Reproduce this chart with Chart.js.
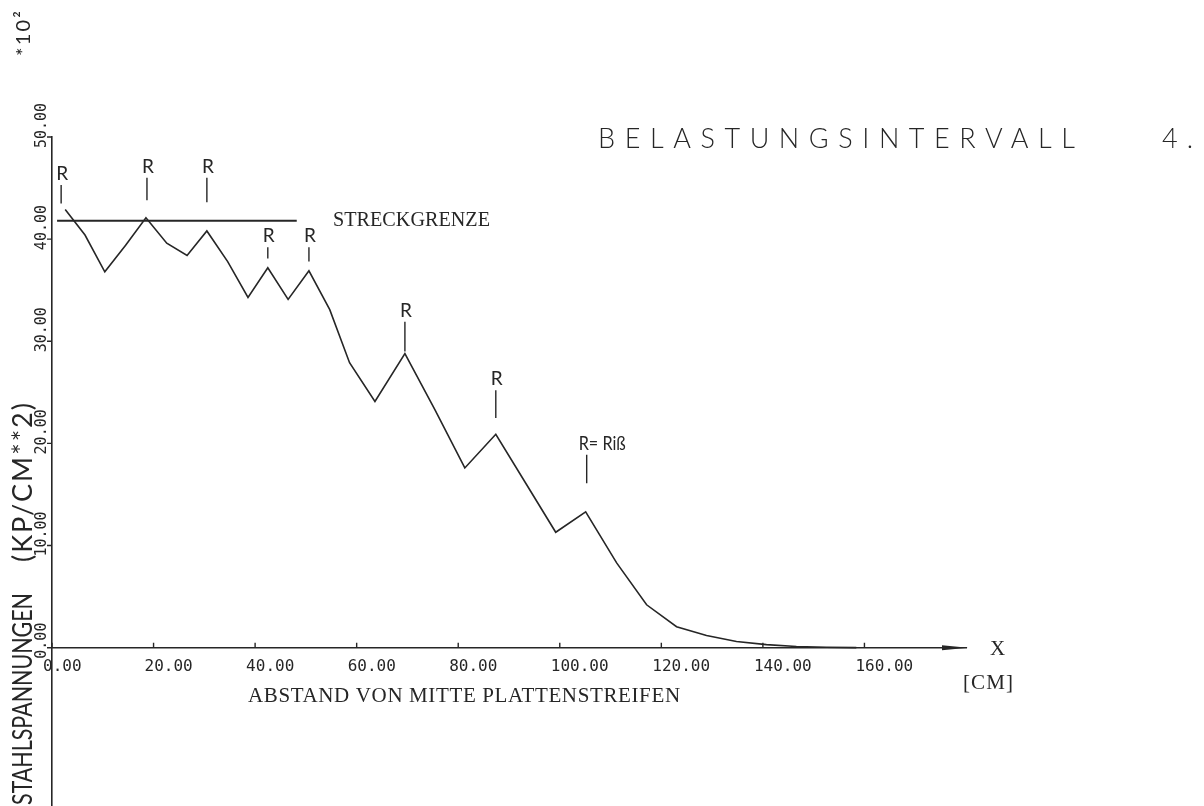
<!DOCTYPE html>
<html>
<head>
<meta charset="utf-8">
<title>Stahlspannungen - Belastungsintervall 4</title>
<script src="https://cdn.jsdelivr.net/npm/chart.js@4.4.1/dist/chart.umd.min.js"></script>
<style>
  html, body { margin: 0; padding: 0; background: #fff; }
  #wrap { position: relative; width: 1204px; height: 806px; }
</style>
</head>
<body>
<div id="wrap"><canvas id="chart"></canvas></div>
<script>
// Abstand von Mitte Plattenstreifen [cm]
const abstand = [2.6, 6.5, 10.4, 14.5, 18.5, 22.6, 26.6, 30.5, 34.6, 38.6, 42.5, 46.5, 50.6, 54.7,
                 58.6, 63.6, 69.5, 75.4, 81.3, 87.4, 93.3, 99.2, 105.1, 111.2, 117.1, 123.0,
                 128.9, 134.8, 140.7, 146.6, 152.5, 158.4];
// Stahlspannung [x10^2 kp/cm^2]
const spannung = [42.9, 40.4, 36.8, 39.4, 42.1, 39.6, 38.4, 40.8, 37.8, 34.3, 37.2, 34.1, 36.9, 33.1,
                  27.9, 24.1, 28.8, 23.3, 17.6, 20.9, 16.1, 11.3, 13.3, 8.3, 4.2, 2.05,
                  1.2, 0.6, 0.3, 0.12, 0.04, 0.01];

// Streckgrenze (von / bis, Hoehe)
const streckX = [1, 48.2];
const streckY = 41.8;

// Risse: Lage, Fuss und Kopf des Markierungsstrichs, Beschriftung
const rissX    = [1.8, 18.7, 30.5, 42.5, 50.6, 69.5, 87.4, 105.3];
const rissFuss = [43.5, 43.8, 43.6, 38.1, 37.8, 29.0, 22.5, 16.1];
const rissKopf = [45.3, 46.0, 46.0, 39.2, 39.2, 31.9, 25.2, 18.9];
const rissText = ['R', 'R', 'R', 'R', 'R', 'R', 'R', 'R= Riß'];

// Achsteilung
const xTicks = [0, 20, 40, 60, 80, 100, 120, 140, 160];
const yTicks = [0, 10, 20, 30, 40, 50];

const INK = '#262626';
const PLOTTER = 'Lato, "DejaVu Sans", sans-serif';
const TYPE = '"Liberation Serif", "DejaVu Serif", serif';
const MONO = '"DejaVu Sans Mono", monospace';

// writes text over the given width: wider -> letter spacing, narrower -> condensed
function fitText(ctx, text, x, y, width, font, angle) {
  ctx.save();
  ctx.font = font;
  ctx.letterSpacing = '0px';
  const base = ctx.measureText(text).width;
  const n = [...text].length;
  let sx = 1;
  if (width && base > width) {
    sx = width / base;
  } else if (width && n > 1) {
    ctx.letterSpacing = ((width - base) / (n - 1)).toFixed(2) + 'px';
  }
  ctx.translate(x, y);
  if (angle) ctx.rotate(angle);
  ctx.scale(sx, 1);
  ctx.textAlign = 'left';
  ctx.textBaseline = 'middle';
  ctx.fillText(text, 0, 0);
  ctx.restore();
}

const plotterPlugin = {
  id: 'plotter',
  afterDatasetsDraw(chart) {
    const {ctx, scales: {x, y}} = chart;
    const x0 = x.getPixelForValue(0);
    const y0 = y.getPixelForValue(0);
    ctx.save();
    ctx.strokeStyle = INK;
    ctx.fillStyle = INK;
    ctx.lineWidth = 1.4;

    // tick marks
    ctx.beginPath();
    xTicks.forEach(v => {
      const px = x.getPixelForValue(v);
      ctx.moveTo(px, y0);
      ctx.lineTo(px, y0 - 5);
    });
    yTicks.forEach(v => {
      const py = y.getPixelForValue(v);
      ctx.moveTo(x0 - 5, py);
      ctx.lineTo(x0, py);
    });
    ctx.stroke();

    // arrow head at the end of the x axis
    const xe = x.right + 2;
    ctx.beginPath();
    ctx.moveTo(xe, y0);
    ctx.lineTo(xe - 26, y0 - 2.5);
    ctx.lineTo(xe - 26, y0 + 2.5);
    ctx.closePath();
    ctx.fill();

    // tick labels
    xTicks.forEach(v => {
      fitText(ctx, v.toFixed(2), x.getPixelForValue(v) - 9, y0 + 19, 0, '16px ' + MONO);
    });
    yTicks.forEach(v => {
      fitText(ctx, v.toFixed(2), 42, y.getPixelForValue(v) + 11, 0, '15px ' + MONO, -Math.PI / 2);
    });

    // crack labels
    const rFont = '19px ' + PLOTTER;
    rissX.forEach((v, i) => {
      const px = x.getPixelForValue(v);
      const py = y.getPixelForValue(rissKopf[i]) - 11;
      const label = rissText[i];
      if (label.length > 1) {
        fitText(ctx, label, px - 8, py, 47, rFont);
      } else {
        ctx.font = rFont;
        const w = ctx.measureText(label).width;
        fitText(ctx, label, px - w / 2 + 1, py, 0, rFont);
      }
    });

    // Streckgrenze
    fitText(ctx, 'STRECKGRENZE', 333, y.getPixelForValue(streckY), 157, '21px ' + TYPE);

    // titles
    fitText(ctx, 'BELASTUNGSINTERVALL', 598, 139, 477, '300 27px ' + PLOTTER);
    fitText(ctx, '4.', 1162, 139, 31, '300 27px ' + PLOTTER);
    fitText(ctx, 'ABSTAND VON MITTE PLATTENSTREIFEN', 248, 696, 432, '21px ' + TYPE);
    fitText(ctx, 'X', 990, y0 + 2, 0, '21px ' + TYPE);
    fitText(ctx, '[CM]', 963, y0 + 36, 50, '21px ' + TYPE);

    // y axis title, reading upwards
    fitText(ctx, 'STAHLSPANNUNGEN', 23, 805, 212, '27px ' + PLOTTER, -Math.PI / 2);
    fitText(ctx, '(KP/CM**2)', 23, 562, 159, '27px ' + PLOTTER, -Math.PI / 2);
    fitText(ctx, '*10²', 24, 56, 45, '20px ' + PLOTTER, -Math.PI / 2);

    ctx.restore();
  }
};

function zeichne() {
  const kurve = abstand.map((v, i) => ({x: v, y: spannung[i]}));
  const grenze = streckX.map(v => ({x: v, y: streckY}));
  const risse = rissX.flatMap((v, i) => [
    {x: v, y: rissFuss[i]}, {x: v, y: rissKopf[i]}, {x: v, y: null}
  ]);

  const lineStyle = {
    borderColor: INK, borderWidth: 1.6, pointRadius: 0, tension: 0, fill: false
  };

  new Chart(document.getElementById('chart'), {
    type: 'line',
    data: {
      datasets: [
        Object.assign({label: 'Stahlspannung', data: kurve}, lineStyle),
        Object.assign({label: 'Streckgrenze', data: grenze}, lineStyle, {borderWidth: 1.8}),
        Object.assign({label: 'Risse', data: risse, spanGaps: false}, lineStyle, {borderWidth: 1.4})
      ]
    },
    options: {
      responsive: true,
      maintainAspectRatio: false,
      animation: false,
      events: [],
      layout: { padding: {left: 52, top: 137, right: 238, bottom: 0} },
      plugins: { legend: {display: false}, tooltip: {enabled: false} },
      scales: {
        x: {
          type: 'linear', min: 0, max: 180,
          position: {y: 0},
          ticks: {display: false},
          grid: {drawOnChartArea: false, drawTicks: false},
          border: {display: true, color: INK, width: 1.6}
        },
        y: {
          type: 'linear', min: -15.5, max: 50,
          position: 'left',
          ticks: {display: false},
          grid: {drawOnChartArea: false, drawTicks: false},
          border: {display: true, color: INK, width: 1.6}
        }
      }
    },
    plugins: [plotterPlugin]
  });
}

Promise.all([
  document.fonts.load('300 20px Lato'),
  document.fonts.load('20px Lato'),
  document.fonts.load('20px "Liberation Serif"'),
  document.fonts.load('16px "DejaVu Sans Mono"')
]).then(zeichne, zeichne);
</script>
</body>
</html>
